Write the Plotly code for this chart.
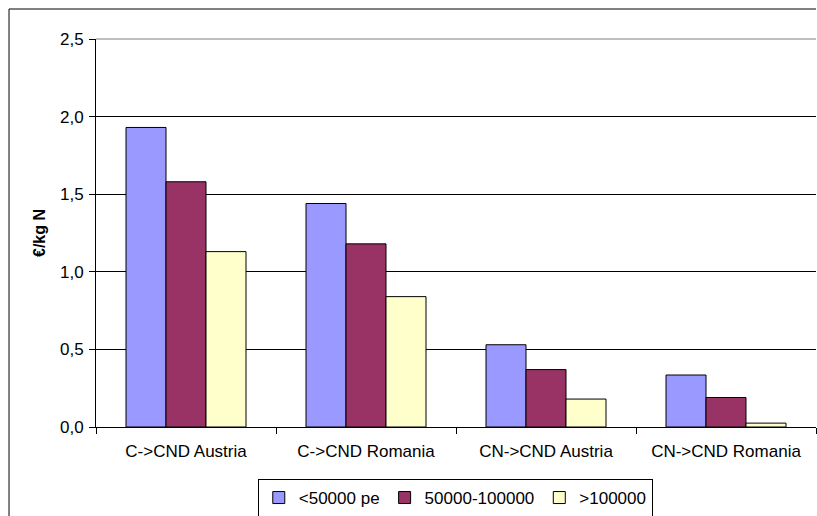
import plotly.graph_objects as go

# -------------------------------------------------
# Data
# -------------------------------------------------
categories = ["C->CND Austria", "C->CND Romania", "CN->CND Austria", "CN->CND Romania"]
small_pe = [1.93, 1.44, 0.53, 0.335]
medium_pe = [1.58, 1.18, 0.37, 0.19]
large_pe = [1.13, 0.84, 0.18, 0.025]

series_names = ["<50000 pe", "50000-100000", ">100000"]
series_colors = ["#9999FF", "#993366", "#FFFFCC"]
y_ticks = [0, 0.5, 1.0, 1.5, 2.0, 2.5]

font = "Liberation Sans, Arial, sans-serif"

fig = go.Figure()
for name, vals, col in zip(series_names, [small_pe, medium_pe, large_pe], series_colors):
    fig.add_trace(go.Bar(
        x=categories,
        y=vals,
        name=name,
        marker=dict(color=col, line=dict(color="black", width=1)),
    ))

fig.update_layout(
    width=817,
    height=516,
    barmode="group",
    bargap=1 / 3,
    bargroupgap=0,
    separators=",.",
    paper_bgcolor="white",
    plot_bgcolor="white",
    font=dict(family=font, size=17, color="black"),
    margin=dict(l=96, r=1, t=39, b=89, autoexpand=False),
    showlegend=True,
    legend=dict(
        orientation="h",
        x=0.499,
        xanchor="center",
        y=-0.134,
        yanchor="top",
        bordercolor="black",
        borderwidth=1,
        font=dict(family=font, size=17),
        itemwidth=30,
        tracegroupgap=0,
        traceorder="normal",
    ),
)

fig.update_xaxes(
    type="category",
    showline=True,
    linecolor="black",
    linewidth=1,
    ticks="outside",
    tickson="boundaries",
    ticklen=6,
    tickcolor="black",
    ticklabelstandoff=9,
    showgrid=False,
    tickfont=dict(family=font, size=17),
)

fig.update_yaxes(
    range=[0, 2.5],
    tickvals=y_ticks,
    tickformat=".1f",
    showline=True,
    linecolor="black",
    linewidth=1,
    ticks="outside",
    ticklen=6,
    tickcolor="black",
    ticklabelstandoff=2,
    showgrid=True,
    gridcolor="black",
    gridwidth=1,
    zeroline=False,
    title=dict(text="<b>€/kg N</b>", font=dict(family=font, size=16), standoff=10),
    tickfont=dict(family=font, size=17),
)

# plot area top edge (gray)
fig.add_shape(type="line", xref="paper", yref="paper", x0=0, x1=1, y0=1, y1=1,
              line=dict(color="#808080", width=1))
# outer chart border: only the left and top edges fall inside the picture
fig.add_shape(type="line", xref="paper", yref="paper", x0=-0.1208, x1=-0.1208,
              y0=-0.4, y1=1.0773, line=dict(color="black", width=1), layer="below")
fig.add_shape(type="line", xref="paper", yref="paper", x0=-0.1208, x1=1.0,
              y0=1.0773, y1=1.0773, line=dict(color="black", width=1), layer="below")

fig.write_html("out.html", config={"displayModeBar": False},
               post_script="document.body.style.margin='0';")
